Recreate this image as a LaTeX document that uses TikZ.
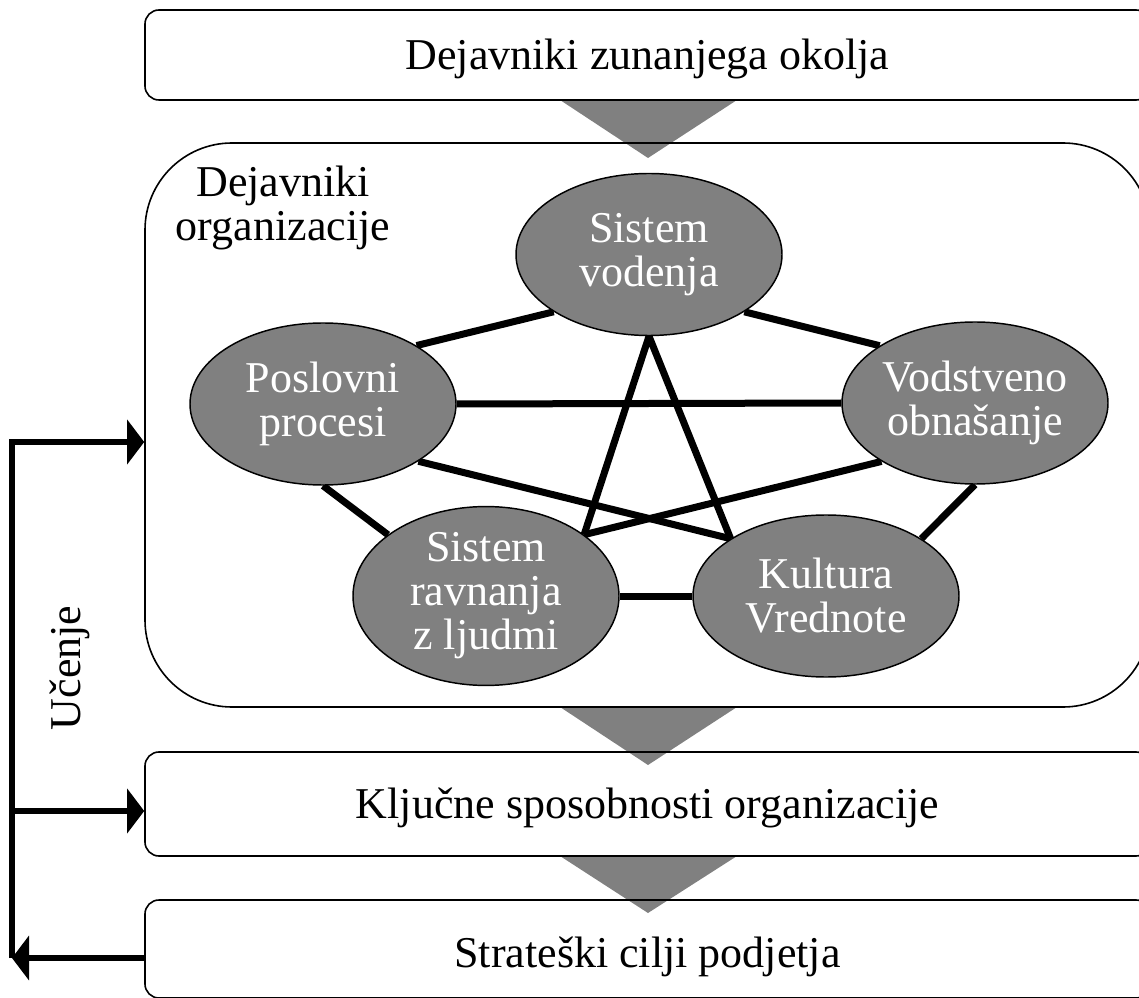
\documentclass[tikz,border=0pt]{standalone}
\usepackage{fontspec}
\setmainfont{Liberation Serif}
\usetikzlibrary{shapes.geometric,arrows.meta}
\pgfdeclarelayer{background}
\pgfsetlayers{background,main}
\definecolor{fillgray}{RGB}{128,128,128}

\begin{document}
\begin{tikzpicture}[x=0.75pt,y=-0.75pt,
  every node/.style={font=\fontsize{33}{33}\selectfont, inner sep=0pt},
  panel/.style={draw, line width=1.2pt, rounded corners=10.5pt, minimum width=753.75pt,
    text depth=7.2pt},
  factor/.style={ellipse, draw, line width=1.1pt, fill=fillgray, text=white,
    align=center, minimum width=199.5pt, minimum height=121.5pt},
  link/.style={line width=5.25pt},
  flow/.style={fill=fillgray},
  feedback/.style={line width=4pt},
  tip/.style={-{Triangle[length=12.75pt,width=33pt]}}
]
\useasboundingbox (0,0) rectangle (1139,998);

% framing panels
\node[panel, minimum height=67.5pt, text height=28.5pt] (env) at (647.5,55) {Dejavniki zunanjega okolja};
\node[panel, rounded corners=65.25pt, minimum height=423pt] (org) at (647.5,425) {};
\node[align=center] (orglabel) at (283,208) {Dejavniki\\organizacije};
\node[panel, minimum height=78pt, text height=28.5pt] (skills) at (647.5,804) {Ključne sposobnosti organizacije};
\node[panel, minimum height=73.5pt, text height=34.5pt] (goals) at (647.5,949) {Strateški cilji podjetja};

% organisational factors
\node[factor] (sv) at (649,254.5) {Sistem\\vodenja};
\node[factor] (pp) at (323,404) {Poslovni\\procesi};
\node[factor] (vo) at (975,403) {Vodstveno\\obnašanje};
\node[factor] (sr) at (486,596) {Sistem\\ravnanja\\z ljudmi};
\node[factor] (kv) at (826,596) {Kultura\\Vrednote};

% learning loop
\node[rotate=90] (learn) at (70,668) {Učenje};
\coordinate (fbtop) at (12,442);
\coordinate (fbmid) at (12,811);
\coordinate (fbbot) at (12,958);

\begin{pgfonlayer}{background}
  % flow wedges between the panels
  \fill[flow] (560,100) -- (737,100) -- (648,158) -- cycle;
  \fill[flow] (560,707) -- (737,707) -- (648,765) -- cycle;
  \fill[flow] (560,856) -- (737,856) -- (648,913) -- cycle;
  % links between factors
  \draw[link] (sv.211) -- (pp.32);
  \draw[link] (sv.329) -- (vo.149);
  \draw[link] (pp.east) -- (vo.west);
  \draw[link] (pp.329) -- (kv.149);
  \draw[link] (vo.212) -- (sr.32);
  \draw[link] (sr.32) -- (sv.south) -- (kv.149);
  \draw[link] (pp.south) -- (sr.148);
  \draw[link] (vo.south) -- (kv.31);
  \draw[link] (sr.east) -- (kv.west);
\end{pgfonlayer}

\draw[feedback, tip] (fbbot) -- (fbtop) -- (fbtop -| org.west);
\draw[feedback, tip] (fbmid) -- (fbmid -| skills.west);
\draw[feedback, tip] (fbbot -| goals.west) -- (fbbot);
\end{tikzpicture}
\end{document}
